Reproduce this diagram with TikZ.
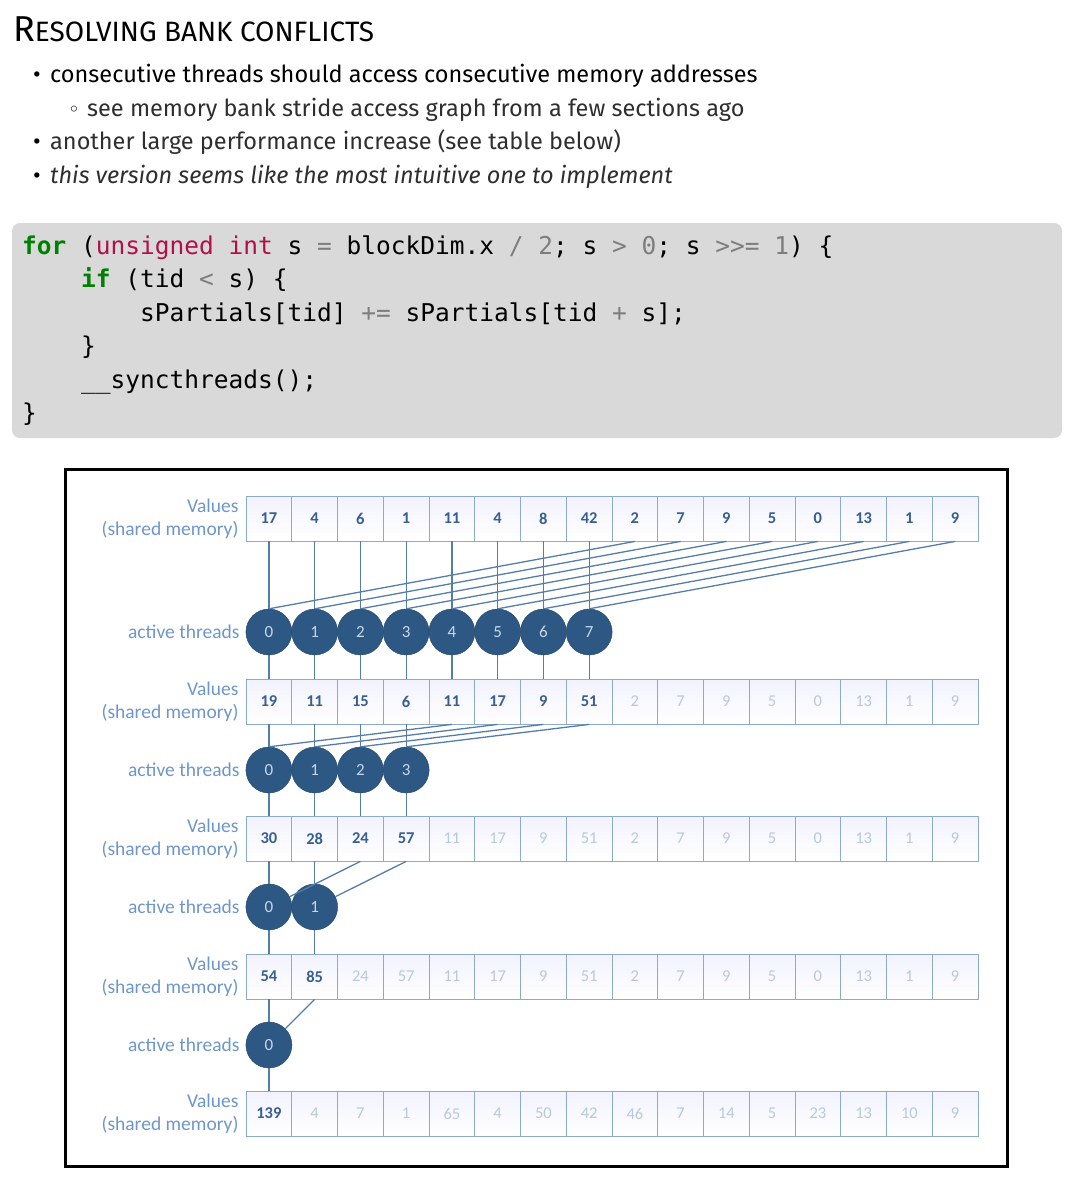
\documentclass[tikz,border=0pt]{standalone}
\usepackage{fontspec}
\setmainfont{Fira Sans}
\setmonofont{DejaVu Sans Mono}
\newfontfamily\diagfont{Carlito}
\newfontfamily\symfont{DejaVu Sans}

\definecolor{codebg}{RGB}{217,217,217}
\definecolor{kwgreen}{RGB}{0,128,0}
\definecolor{kwtype}{RGB}{176,16,72}
\definecolor{opgray}{RGB}{125,125,125}
\definecolor{lblblue}{RGB}{110,150,200}
\definecolor{cellline}{RGB}{140,170,205}
\definecolor{vact}{RGB}{55,95,145}
\definecolor{voff}{RGB}{185,200,220}
\definecolor{wire}{RGB}{85,125,170}
\definecolor{threadfill}{RGB}{45,88,132}
\definecolor{threadtxt}{RGB}{200,215,232}

\tikzset{
  cell/.style={draw=cellline, line width=0.8pt, minimum width=45.75pt, minimum height=45pt,
    inner sep=0pt, top color=blue!5, bottom color=white, font=\diagfont\fontsize{16.5}{16.5}\selectfont},
  thread/.style={circle, fill=threadfill, draw=threadfill!80!black, minimum size=46pt, inner sep=0pt,
    text=threadtxt, font=\diagfont\fontsize{17}{17}\selectfont},
  lbl/.style={text=lblblue, font=\diagfont\fontsize{19.5}{23}\selectfont, align=right, inner sep=0pt},
  wire/.style={draw=wire, line width=1.3pt},
  codeline/.style={anchor=mid west, inner sep=0pt, font=\ttfamily\fontsize{24.5}{24.5}\selectfont},
  txt/.style={anchor=base west, inner sep=0pt, font=\fontsize{23.5}{23.5}\selectfont},
}

\newcommand{\kw}[1]{\textcolor{kwgreen}{\textbf{#1}}}
\newcommand{\ty}[1]{\textcolor{kwtype}{#1}}
\newcommand{\op}[1]{\textcolor{opgray}{#1}}

% one row of shared memory: name, y, active cells, values
\newcommand{\valrow}[4]{%
  \foreach \v [count=\i from 0] in {#4}
    \node[cell] (#1c\i) at (268.9+45.75*\i,#2)
      {\ifnum\i<#3\relax\bfseries\color{vact}\else\color{voff}\fi\v};
  \node[lbl, anchor=east] (#1lbl) at ([xshift=-7pt]#1c0.west) {Values\\(shared memory)};
}
% one row of active threads: name, y, last index
\newcommand{\threadrow}[3]{%
  \foreach \i in {0,...,#3}
    \node[thread] (#1n\i) at (268.9+45.75*\i,#2) {\i};
  \node[lbl, anchor=east] (#1lbl) at ([xshift=-6pt]#1n0.west) {active threads};
}

\begin{document}
\begin{tikzpicture}[x=1pt,y=-1pt]
  \useasboundingbox (0,0) rectangle (1074,1193);

  % title and bullets
  \node[txt] (title) at (13,42) {\fontsize{36}{36}\selectfont R\fontsize{28}{28}\selectfont ESOLVING BANK CONFLICTS};
  \node[txt] (b1) at (50,83) {consecutive threads should access consecutive memory addresses};
  \node[txt, text=black!82] (b2) at (87,117) {see memory bank stride access graph from a few sections ago};
  \node[txt, text=black!82] (b3) at (50,150) {another large performance increase (see table below)};
  \node[txt, text=black!82] (b4) at (50,184) {\itshape this version seems like the most intuitive one to implement};
  \node[txt, anchor=base east] (d1) at ([xshift=-9pt]b1.base west) {•};
  \node[txt, anchor=base east] (d2) at ([xshift=-7pt]b2.base west) {\symfont\fontsize{20}{20}\selectfont ◦};
  \node[txt, anchor=base east] (d3) at ([xshift=-9pt]b3.base west) {•};
  \node[txt, anchor=base east] (d4) at ([xshift=-9pt]b4.base west) {•};

  % code
  \fill[codebg, rounded corners=8pt] (12,223) rectangle (1062,438);
  \node[codeline] (l1) at (22,252) {\kw{for} (\ty{unsigned int} s \op{=} blockDim.x \op{/ 2}; s \op{> 0}; s \op{>>= 1}) \{};
  \node[codeline] (l2) at (81,285) {\kw{if} (tid \op{<} s) \{};
  \node[codeline] (l3) at (140,319) {sPartials[tid] \op{+=} sPartials[tid \op{+} s];};
  \node[codeline] (l4) at (81,352) {\}};
  \node[codeline] (l5) at (81,386) {\_\_syncthreads();};
  \node[codeline] (l6) at (22,419) {\}};

  % diagram
  \draw[line width=3pt] (65,469) rectangle (1007,1166);
  \valrow{r1}{518.5}{16}{17,4,6,1,11,4,8,42,2,7,9,5,0,13,1,9}
  \threadrow{t1}{632}{7}
  \valrow{r2}{701.5}{8}{19,11,15,6,11,17,9,51,2,7,9,5,0,13,1,9}
  \threadrow{t2}{770}{3}
  \valrow{r3}{838.5}{4}{30,28,24,57,11,17,9,51,2,7,9,5,0,13,1,9}
  \threadrow{t3}{907}{1}
  \valrow{r4}{976.5}{2}{54,85,24,57,11,17,9,51,2,7,9,5,0,13,1,9}
  \threadrow{t4}{1045}{0}
  \valrow{r5}{1113.5}{1}{139,4,7,1,65,4,50,42,46,7,14,5,23,13,10,9}

  % s = 8
  \foreach \i [evaluate=\i as \j using int(\i+8)] in {0,...,7} {
    \draw[wire] (r1c\i.south) -- (t1n\i.north);
    \draw[wire] (r1c\j.south) -- (t1n\i.north);
    \draw[wire] (t1n\i.south) -- (r2c\i.north);
  }
  % s = 4
  \foreach \i [evaluate=\i as \j using int(\i+4)] in {0,...,3} {
    \draw[wire] (r2c\i.south) -- (t2n\i.north);
    \draw[wire] (r2c\j.south) -- (t2n\i.north);
    \draw[wire] (t2n\i.south) -- (r3c\i.north);
  }
  % s = 2
  \foreach \i [evaluate=\i as \j using int(\i+2)] in {0,1} {
    \draw[wire] (r3c\i.south) -- (t3n\i.north);
    \draw[wire] (r3c\j.south) -- (t3n\i);
    \draw[wire] (t3n\i.south) -- (r4c\i.north);
  }
  % s = 1
  \draw[wire] (r4c0.south) -- (t4n0.north);
  \draw[wire] (r4c1.south) -- (t4n0);
  \draw[wire] (t4n0.south) -- (r5c0.north);
\end{tikzpicture}
\end{document}
